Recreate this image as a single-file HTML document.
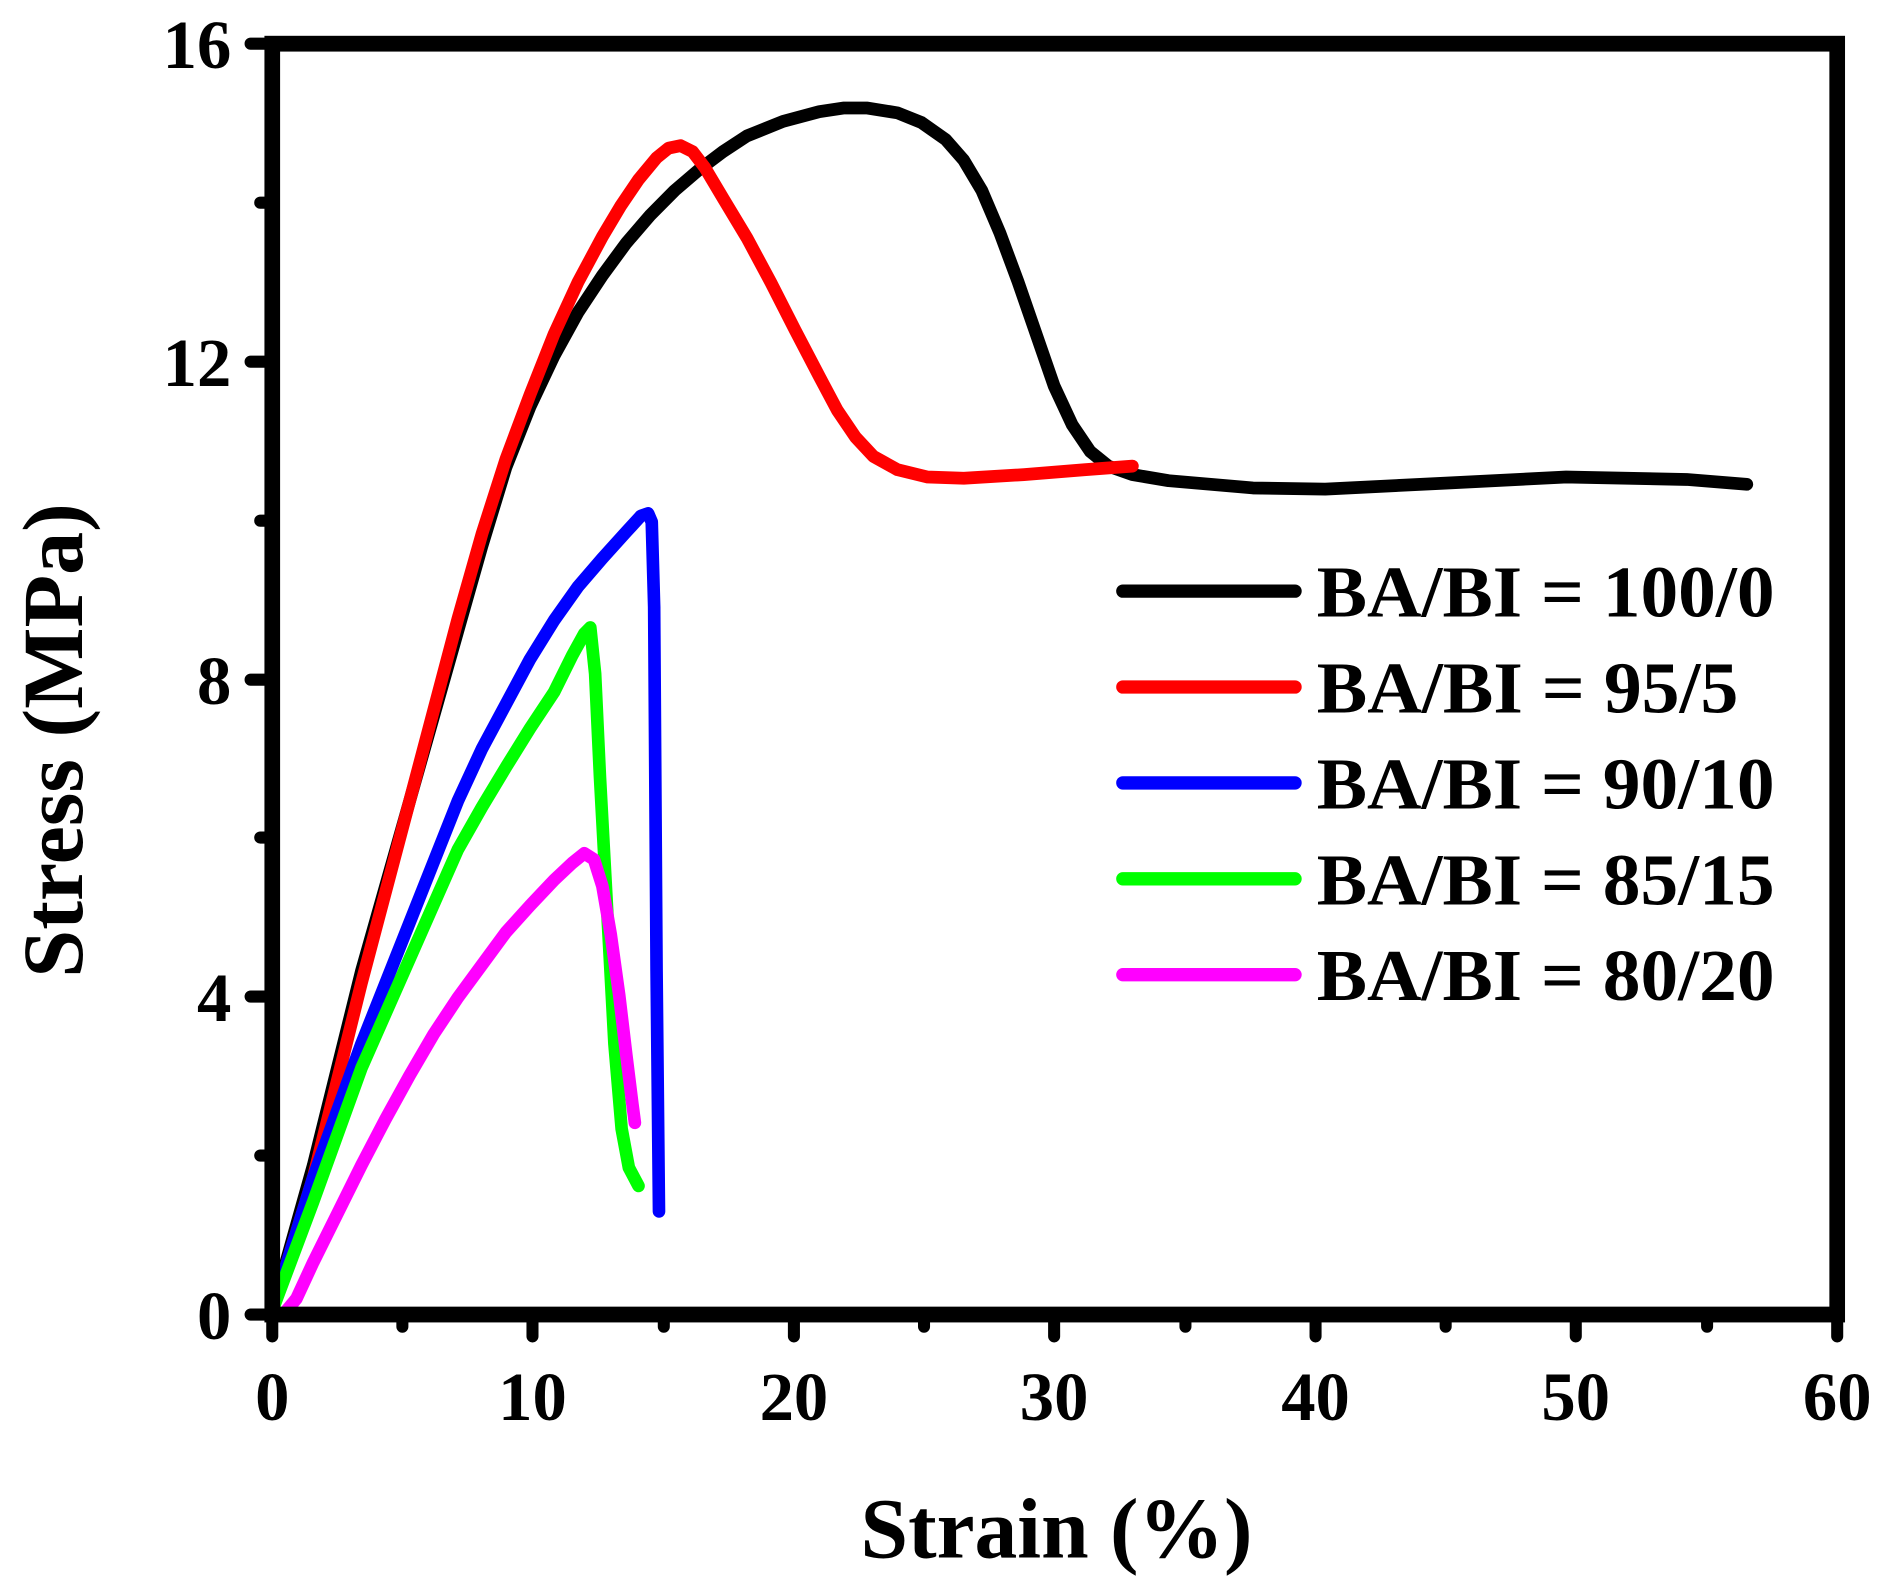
<!DOCTYPE html>
<html><head><meta charset="utf-8"><style>html,body{margin:0;padding:0;background:#fff}svg{display:block}</style></head>
<body>
<svg width="1889" height="1584" viewBox="0 0 1568 1305" preserveAspectRatio="none" xmlns="http://www.w3.org/2000/svg" font-family="'Liberation Serif', serif" font-weight="bold">
<g fill="none" stroke-linecap="round" stroke-linejoin="round" stroke-width="10.5">
<path stroke="#000" d="M226,1080 L260,960 L300,800 L340,660 L380,520 L400,450 L420,385 L440,335 L460,293 L480,257 L500,227 L520,200 L540,177 L560,157 L580,140 L600,125 L620,112 L650,100 L680,92 L700,89 L720,89 L745,93 L765,101 L785,115 L800,132 L815,157 L830,192 L845,232 L860,275 L875,318 L890,350 L905,372 L920,384 L940,391 L970,396 L1040,402 L1100,403 L1200,398 L1300,393 L1400,395 L1450,399"/>
<path stroke="#ff0000" d="M226,1080 L260,970 L300,810 L340,660 L380,510 L400,440 L420,378 L440,325 L460,275 L480,232 L500,195 L515,170 L530,148 L545,130 L555,122 L565,120 L575,125 L585,138 L600,163 L620,196 L640,233 L660,272 L680,310 L695,338 L710,360 L725,376 L745,387 L770,393 L800,394 L850,391 L900,387 L940,384"/>
<path stroke="#0000ff" d="M226,1080 L260,970 L300,860 L340,760 L380,660 L400,617 L420,580 L440,543 L460,511 L480,483 L500,460 L520,438 L532,425 L538,423 L541,430 L543,500 L545,800 L547,998"/>
<path stroke="#00ff00" d="M226,1080 L260,990 L300,880 L340,790 L380,700 L400,665 L420,632 L440,600 L460,570 L475,540 L485,522 L490,517 L494,555 L498,640 L504,750 L510,860 L516,930 L522,962 L530,977"/>
<path stroke="#ff00ff" d="M226,1083 L236,1082 L246,1070 L260,1040 L280,1000 L300,960 L320,922 L340,886 L360,852 L380,822 L400,795 L420,768 L440,746 L460,725 L475,711 L485,703 L493,708 L500,730 L507,770 L514,820 L520,870 L525,910 L527,925"/>
</g>
<g stroke="#000" stroke-linecap="round" fill="none">
<rect x="226" y="36" width="1299" height="1047" stroke-width="13"/>
<g stroke-width="10">
<path d="M226,1083h-18M226,821h-18M226,560h-18M226,298h-18M226,36h-18"/>
<path d="M226,952h-10M226,690h-10M226,429h-10M226,167h-10"/>
<path d="M226,1083v18M442,1083v18M659,1083v18M875,1083v18M1092,1083v18M1308,1083v18M1525,1083v18"/>
<path d="M334,1083v10M551,1083v10M767,1083v10M984,1083v10M1200,1083v10M1417,1083v10"/>
</g>
</g>
<g font-size="57" fill="#000" text-anchor="end">
<text x="192" y="1103">0</text>
<text x="192" y="841">4</text>
<text x="192" y="580">8</text>
<text x="192" y="318">12</text>
<text x="192" y="56">16</text>
</g>
<g font-size="57" fill="#000" text-anchor="middle">
<text x="226" y="1170">0</text>
<text x="442" y="1170">10</text>
<text x="659" y="1170">20</text>
<text x="875" y="1170">30</text>
<text x="1092" y="1170">40</text>
<text x="1308" y="1170">50</text>
<text x="1525" y="1170">60</text>
</g>
<text x="877" y="1283" font-size="71" text-anchor="middle">Strain (%)</text>
<text transform="translate(68,610) rotate(-90)" font-size="71" text-anchor="middle">Stress (MPa)</text>
<g stroke-width="11" stroke-linecap="round">
<line x1="932" y1="487" x2="1075" y2="487" stroke="#000"/>
<line x1="932" y1="566" x2="1075" y2="566" stroke="#ff0000"/>
<line x1="932" y1="645" x2="1075" y2="645" stroke="#0000ff"/>
<line x1="932" y1="724" x2="1075" y2="724" stroke="#00ff00"/>
<line x1="932" y1="803" x2="1075" y2="803" stroke="#ff00ff"/>
</g>
<g font-size="60" fill="#000" textLength="380">
<text x="1093" y="508" textLength="380" lengthAdjust="spacingAndGlyphs">BA/BI = 100/0</text>
<text x="1093" y="587" textLength="350" lengthAdjust="spacingAndGlyphs">BA/BI = 95/5</text>
<text x="1093" y="666" textLength="380" lengthAdjust="spacingAndGlyphs">BA/BI = 90/10</text>
<text x="1093" y="745" textLength="380" lengthAdjust="spacingAndGlyphs">BA/BI = 85/15</text>
<text x="1093" y="824" textLength="380" lengthAdjust="spacingAndGlyphs">BA/BI = 80/20</text>
</g>
</svg>
</body></html>
